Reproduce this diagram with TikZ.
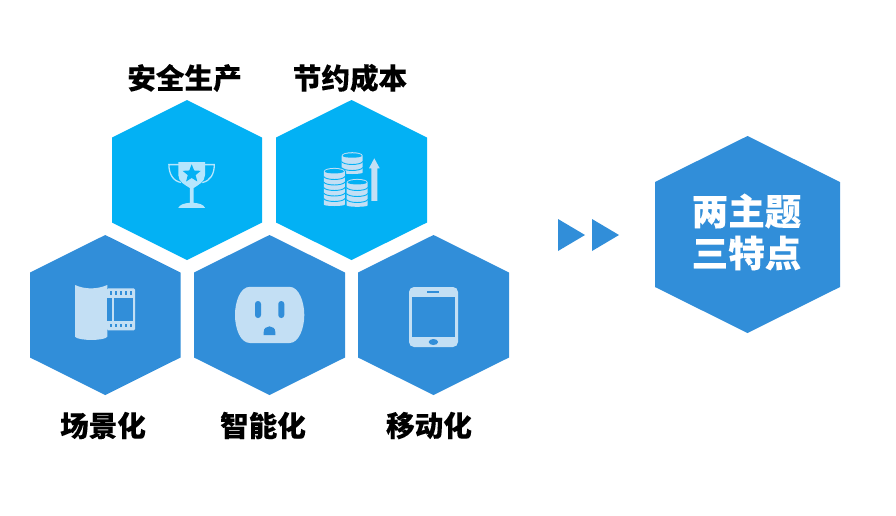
\documentclass[tikz,border=0pt]{standalone}
\usepackage{fontspec}
\newfontfamily\cjk[BoldFeatures={FakeBold=0.1}]{Noto Sans CJK SC}
\usetikzlibrary{shapes.geometric}
\definecolor{hexcyan}{HTML}{03B1F4}
\definecolor{hexblue}{HTML}{318ED9}
\definecolor{iconlight}{HTML}{C3DFF4}
\definecolor{iconcup}{HTML}{B5E6FD}
\tikzset{
  label text/.style={font=\cjk\bfseries\fontsize{28.6}{28}\selectfont,text=black,inner sep=0pt},
  big text/.style={font=\cjk\bfseries\fontsize{36.5}{42}\selectfont,text=white,align=center,inner sep=0pt},
  cyan hex/.style={fill=hexcyan},
  blue hex/.style={fill=hexblue},
  play mark/.style={fill=hexblue},
  light icon/.style={fill=iconlight},
  cup icon/.style={fill=iconcup},
}
% style, left, right, top, shoulder, lower shoulder, bottom
\newcommand\hexa[7]{\path[#1] ({(#2+#3)/2},#4) -- (#3,#5) -- (#3,#6) -- ({(#2+#3)/2},#7) -- (#2,#6) -- (#2,#5) -- cycle;}
% centre x, top-ellipse centre y, bottom y, band positions
\newcommand\coinstack[4]{%
  \def\rx{10.5}\def\ry{3.6}%
  \path[fill=hexcyan] ({#1-\rx-1.2},#2) -- ({#1-\rx-1.2},{#3+0.5}) .. controls ({#1-\rx},{#3+\ry}) and ({#1+\rx},{#3+\ry}) .. ({#1+\rx+1.2},{#3+0.5}) -- ({#1+\rx+1.2},#2) .. controls ({#1+\rx},{#2-\ry*1.7}) and ({#1-\rx},{#2-\ry*1.7}) .. cycle;
  \path[light icon] ({#1-\rx},#2) -- ({#1-\rx},{#3-1.5}) .. controls ({#1-\rx},{#3+0.5}) and ({#1+\rx},{#3+0.5}) .. ({#1+\rx},{#3-1.5}) -- ({#1+\rx},#2) .. controls ({#1+\rx},{#2-\ry*1.33}) and ({#1-\rx},{#2-\ry*1.33}) .. cycle;
  \path[fill=hexcyan] ({#1-\rx+1},#2) .. controls ({#1-\rx+1},{#2-\ry*0.95}) and ({#1+\rx-1},{#2-\ry*0.95}) .. ({#1+\rx-1},#2) .. controls ({#1+\rx-1},{#2+\ry*0.7}) and ({#1-\rx+1},{#2+\ry*0.7}) .. cycle;
  \foreach \b in {#4}{
    \draw[hexcyan,line width=0.9pt] ({#1-\rx-0.2},\b) .. controls ({#1-\rx+2},{\b+\ry*1.1}) and ({#1+\rx-2},{\b+\ry*1.1}) .. ({#1+\rx+0.2},\b);
  }%
}
\begin{document}
\begin{tikzpicture}[x=1pt,y=-1pt]
\useasboundingbox (0,0) rectangle (896,515);
\fill[white] (0,0) rectangle (896,515);

% hexagons
\hexa{cyan hex}{112}{262}{100}{137.5}{222.5}{260}
\hexa{cyan hex}{276}{427}{100}{137.5}{222.5}{260}
\hexa{blue hex}{30}{180.5}{235}{272.5}{357.5}{395}
\hexa{blue hex}{194}{345}{235}{272.5}{357.5}{395}
\hexa{blue hex}{358}{509}{235}{272.5}{357.5}{395}
\hexa{blue hex}{655}{840}{136}{182}{287}{333}

% play marks
\path[play mark] (558,219) -- (585,235) -- (558,251) -- cycle;
\path[play mark] (592,219) -- (619,235) -- (592,251) -- cycle;

% trophy
\draw[iconcup,line width=1.3pt] (179,164.6) -- (168.9,164.6) .. controls (168.9,174) and (173,181) .. (181,182.5);
\draw[iconcup,line width=1.3pt] (204.4,164.6) -- (214.3,164.6) .. controls (214.3,174) and (210.3,181) .. (202.3,182.5);
\path[cup icon] (178.3,162) -- (205,162) -- (205,175) .. controls (205,182) and (198,185) .. (193.6,188) -- (193.6,202.8)
  .. controls (199,203.2) and (203.5,204.5) .. (205,207.8) -- (178.3,207.8) .. controls (179.8,204.5) and (184.5,203.2) .. (189.8,202.8) -- (189.8,188) .. controls (185.4,185) and (178.3,182) .. (178.3,175) -- cycle;
\node[star,star points=5,star point ratio=2.3,fill=hexcyan,minimum size=19pt,inner sep=0pt] (trophystar) at (191.7,173.8) {};

% coins and arrow
\coinstack{352.2}{155.8}{174}{161.5,167.5}
\coinstack{334.3}{171.5}{206}{176.5,182,187.5,193,198.5}
\coinstack{357.2}{182.5}{206.8}{187.5,193.5,199.5}
\path[light icon] (371.3,200.8) -- (371.3,168.3) -- (369,168.3) -- (374.3,158.3) -- (379.7,168.3) -- (377.3,168.3) -- (377.3,200.8) -- cycle;

% film roll
\path[light icon] (75,285) .. controls (85,289.5) and (97,289.5) .. (107.3,285) -- (107.3,336.7) .. controls (105,341) and (78,341) .. (75,336.7) -- cycle;
\path[light icon,rounded corners=1.2pt] (107,288.3) rectangle (135,330.3);
\foreach \hx in {109.5,114.5,119.5,124.5,129.5}{
  \fill[hexblue] (\hx,291) rectangle ++(2.6,3.6);
  \fill[hexblue] (\hx,323.6) rectangle ++(2.6,3.6);
}
\fill[hexblue] (107.3,297.7) rectangle (111.7,320.7);
\fill[hexblue] (114.3,297.7) rectangle (133.3,320.7);

% socket
\path[light icon] (250,286.8) -- (289.5,286.8) .. controls (299,286.8) and (304.3,302) .. (304.3,315) .. controls (304.3,328) and (299,343) .. (289.5,343) -- (250,343) .. controls (240,343) and (235,328) .. (235,315) .. controls (235,302) and (240,286.8) .. (250,286.8) -- cycle;
\fill[hexblue,rounded corners=2.9pt] (255,301) rectangle (261,318);
\fill[hexblue,rounded corners=2.9pt] (278.3,301) rectangle (284.3,318);
\fill[hexblue] (263.7,335) -- (263.7,332) .. controls (263.7,324.5) and (275.3,324.5) .. (275.3,332) -- (275.3,335) -- cycle;

% tablet
\fill[iconlight,rounded corners=5pt] (409,287) rectangle (458,347);
\fill[hexblue] (412,297) rectangle (455,337);
\fill[hexblue] (427.3,291) rectangle (439.3,293);
\fill[hexblue] (433.4,342) ellipse [x radius=4.7pt,y radius=3pt];

% labels
\node[label text] (lanquan) at (184.5,78) {安全生产};
\node[label text] (jieyue) at (350,78) {节约成本};
\node[label text] (changjing) at (103,425.5) {场景化};
\node[label text] (zhineng) at (263,425.5) {智能化};
\node[label text] (yidong) at (429,425.5) {移动化};
\node[big text] (theme) at (746.5,232) {两主题\\三特点};
\end{tikzpicture}
\end{document}
